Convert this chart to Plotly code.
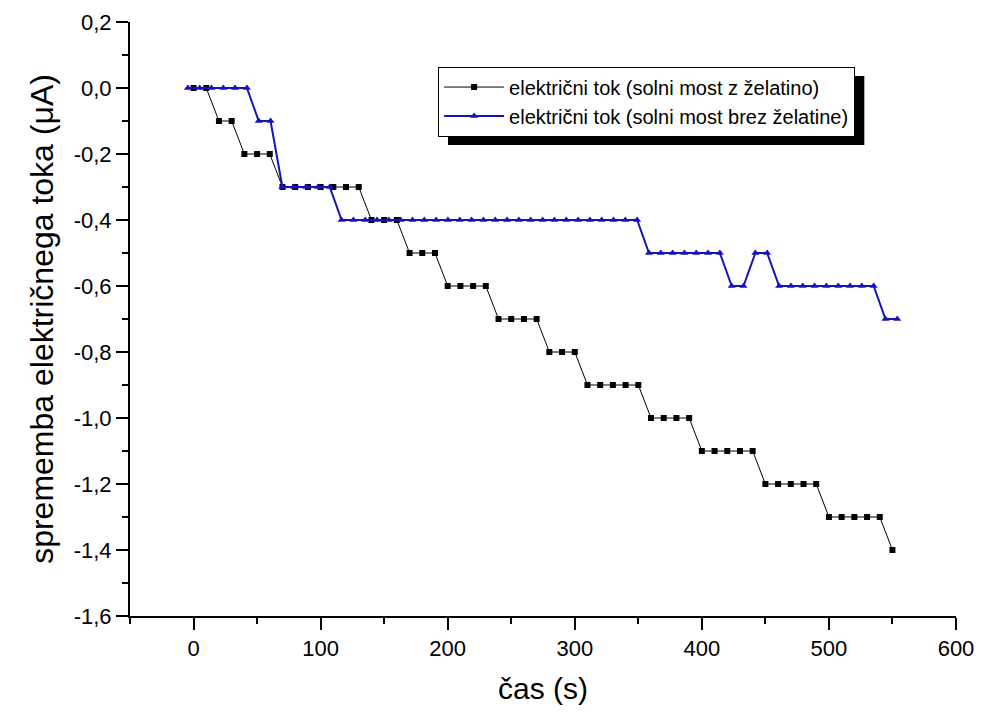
import plotly.graph_objects as go

# ---- data ----
t_gel = [0, 10, 20, 30, 40, 50, 60, 70, 80, 90, 100, 110, 120, 130, 140, 150, 160,
         170, 180, 190, 200, 210, 220, 230, 240, 250, 260, 270, 280, 290, 300,
         310, 320, 330, 340, 350, 360, 370, 380, 390, 400, 410, 420, 430, 440,
         450, 460, 470, 480, 490, 500, 510, 520, 530, 540, 550]
i_gel = [0.0, 0.0, -0.1, -0.1, -0.2, -0.2, -0.2,
         -0.3, -0.3, -0.3, -0.3, -0.3, -0.3, -0.3,
         -0.4, -0.4, -0.4,
         -0.5, -0.5, -0.5,
         -0.6, -0.6, -0.6, -0.6,
         -0.7, -0.7, -0.7, -0.7,
         -0.8, -0.8, -0.8,
         -0.9, -0.9, -0.9, -0.9, -0.9,
         -1.0, -1.0, -1.0, -1.0,
         -1.1, -1.1, -1.1, -1.1, -1.1,
         -1.2, -1.2, -1.2, -1.2, -1.2,
         -1.3, -1.3, -1.3, -1.3, -1.3,
         -1.4]

t_nogel = [-4.5, 4.8, 14.1, 23.4, 32.7, 42.0, 51.3, 60.6, 69.9, 79.2, 88.6, 97.9,
           107.2, 116.5, 125.8, 135.1, 144.4, 153.7, 163.0, 172.3, 181.6, 190.9,
           200.2, 209.5, 218.8, 228.1, 237.4, 246.7, 256.0, 265.3, 274.7, 284.0,
           293.3, 302.6, 311.9, 321.2, 330.5, 339.8, 349.1, 358.4, 367.7, 377.0,
           386.3, 395.6, 404.9, 414.2, 423.5, 432.8, 442.1, 451.4, 460.8, 470.1,
           479.4, 488.7, 498.0, 507.3, 516.6, 525.9, 535.2, 544.5, 553.8]
i_nogel = [0.0, 0.0, 0.0, 0.0, 0.0, 0.0,
           -0.1, -0.1,
           -0.3, -0.3, -0.3, -0.3, -0.3,
           -0.4, -0.4, -0.4, -0.4, -0.4, -0.4, -0.4, -0.4, -0.4, -0.4, -0.4, -0.4, -0.4,
           -0.4, -0.4, -0.4, -0.4, -0.4, -0.4, -0.4, -0.4, -0.4, -0.4, -0.4, -0.4, -0.4,
           -0.5, -0.5, -0.5, -0.5, -0.5, -0.5, -0.5,
           -0.6, -0.6,
           -0.5, -0.5,
           -0.6, -0.6, -0.6, -0.6, -0.6, -0.6, -0.6, -0.6, -0.6,
           -0.7, -0.7]

x_ticks = [0, 100, 200, 300, 400, 500, 600]
x_ticktext = ["0", "100", "200", "300", "400", "500", "600"]
y_ticks = [0.2, 0.0, -0.2, -0.4, -0.6, -0.8, -1.0, -1.2, -1.4, -1.6]
y_ticktext = ["0,2", "0,0", "-0,2", "-0,4", "-0,6", "-0,8", "-1,0", "-1,2", "-1,4", "-1,6"]

name_gel = "električni tok (solni most z želatino)"
name_nogel = "električni tok (solni most brez želatine)"

FONT = "Liberation Sans, Arial, sans-serif"
BLUE = "#1414B8"

fig = go.Figure()
fig.add_trace(go.Scatter(
    x=t_gel, y=i_gel, name=name_gel, mode="lines+markers",
    line=dict(color="black", width=1),
    marker=dict(symbol="square", size=6, color="black"),
))
fig.add_trace(go.Scatter(
    x=t_nogel, y=i_nogel, name=name_nogel, mode="lines+markers",
    line=dict(color=BLUE, width=2),
    marker=dict(symbol="triangle-up", size=7, color=BLUE),
))

axis_common = dict(
    showline=True, linewidth=2, linecolor="black", mirror=False,
    showgrid=False, zeroline=False, automargin=False,
    ticks="outside", ticklen=12, tickwidth=2, tickcolor="black",
    tickfont=dict(family=FONT, size=22, color="black"),
)

fig.update_xaxes(
    range=[-50, 600], tickmode="array", tickvals=x_ticks, ticktext=x_ticktext,
    minor=dict(ticks="outside", ticklen=6, tickwidth=2, tickcolor="black", dtick=50, tick0=0),
    title=dict(text="čas (s)", font=dict(family=FONT, size=30, color="black"), standoff=18),
    **axis_common,
)
fig.update_yaxes(
    range=[-1.6, 0.2], tickmode="array", tickvals=y_ticks, ticktext=y_ticktext,
    minor=dict(ticks="outside", ticklen=6, tickwidth=2, tickcolor="black", dtick=0.1, tick0=0),
    title=dict(text="sprememba električnega toka (μA)", font=dict(family=FONT, size=32, color="black"), standoff=10),
    **axis_common,
)

# page body has an 8px margin, so the figure is sized/offset to compensate
fig.update_layout(
    width=974, height=708,
    margin=dict(l=122, r=26, t=14, b=100),
    paper_bgcolor="white", plot_bgcolor="white",
    font=dict(family=FONT, color="black"),
    showlegend=True,
    legend=dict(
        x=0.373, y=0.925, xanchor="left", yanchor="top",
        bgcolor="white", bordercolor="black", borderwidth=1,
        font=dict(family=FONT, size=20, color="black"),
        itemwidth=60, tracegroupgap=0,
    ),
    shapes=[dict(
        type="rect", xref="paper", yref="paper",
        x0=0.385, x1=0.889, y0=0.793, y1=0.909,
        fillcolor="black", line=dict(width=0), layer="above",
    )],
)

fig.write_html("out.html")
